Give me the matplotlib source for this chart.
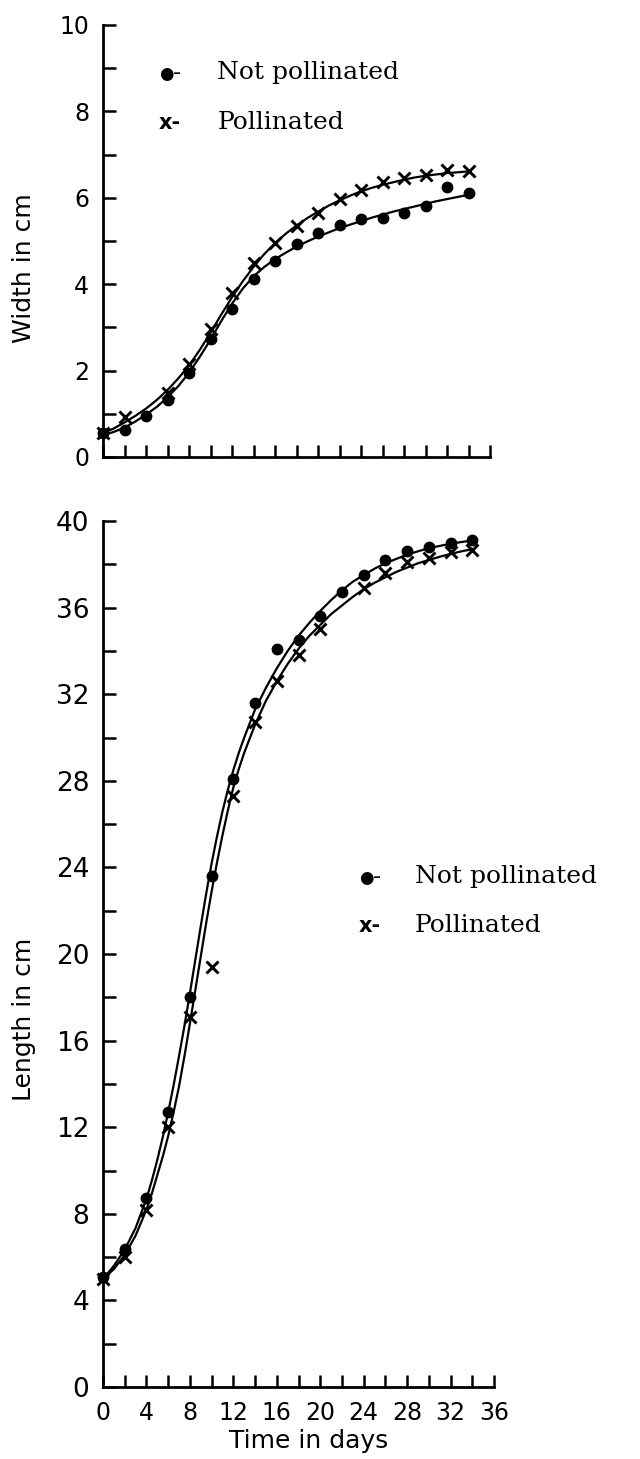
import matplotlib.pyplot as plt
from matplotlib.ticker import MultipleLocator

width_days_np = [0, 2, 4, 6, 8, 10, 12, 14, 16, 18, 20, 22, 24, 26, 28, 30, 32, 34]
width_np = [0.55, 0.62, 0.95, 1.33, 1.95, 2.72, 3.42, 4.11, 4.53, 4.92,
            5.19, 5.37, 5.50, 5.53, 5.65, 5.80, 6.24, 6.11]
width_days_p = [0, 2, 6, 8, 10, 12, 14, 16, 18, 20, 22, 24, 26, 28, 30, 32, 34]
width_p = [0.55, 0.92, 1.49, 2.15, 2.96, 3.80, 4.50, 4.96, 5.34, 5.65,
           5.96, 6.19, 6.36, 6.46, 6.52, 6.64, 6.62]

length_days_np = [0, 2, 4, 6, 8, 10, 12, 14, 16, 18, 20, 22, 24, 26, 28, 30, 32, 34]
length_np = [5.1, 6.4, 8.75, 12.7, 18.0, 23.6, 28.1, 31.6, 34.1, 34.5,
             35.6, 36.7, 37.5, 38.2, 38.6, 38.8, 39.0, 39.1]
length_days_p = [0, 2, 4, 6, 8, 10, 12, 14, 16, 18, 20, 24, 26, 28, 30, 32, 34]
length_p = [5.0, 6.0, 8.2, 12.0, 17.1, 19.4, 27.3, 30.7, 32.6, 33.8,
            35.0, 36.9, 37.6, 38.1, 38.3, 38.55, 38.65]

# fitted curves
width_curve_days = list(range(0, 35))
width_curve_np = [0.50, 0.58, 0.68, 0.82, 0.98, 1.16, 1.38, 1.64, 1.95, 2.32,
                  2.72, 3.15, 3.55, 3.90, 4.18, 4.40, 4.58, 4.73, 4.87, 4.99,
                  5.10, 5.20, 5.30, 5.38, 5.46, 5.54, 5.61, 5.68, 5.74, 5.80,
                  5.86, 5.92, 5.97, 6.02, 6.07]
width_curve_p = [0.55, 0.66, 0.80, 0.95, 1.12, 1.32, 1.55, 1.82, 2.12, 2.48,
                 2.88, 3.30, 3.70, 4.07, 4.40, 4.70, 4.95, 5.17, 5.36, 5.53,
                 5.68, 5.82, 5.94, 6.05, 6.15, 6.23, 6.30, 6.36, 6.42, 6.47,
                 6.51, 6.54, 6.57, 6.59, 6.61]

length_curve_days = [0, 1, 2, 3, 4, 4.5, 5, 5.5, 6, 6.5, 7, 7.5, 8, 8.5, 9, 9.5,
                     10, 10.5, 11, 11.5, 12, 12.5, 13, 14, 15, 16, 17, 18, 19, 20,
                     21, 22, 23, 24, 25, 26, 27, 28, 29, 30, 31, 32, 33, 34]
length_curve_np = [5.0, 5.6, 6.35, 7.35, 8.7, 9.55, 10.5, 11.55, 12.7, 13.95,
                   15.3, 16.7, 18.2, 19.75, 21.3, 22.8, 24.2, 25.45, 26.6, 27.6,
                   28.5, 29.3, 30.0, 31.3, 32.3, 33.2, 34.0, 34.7, 35.3, 35.85,
                   36.35, 36.8, 37.2, 37.5, 37.8, 38.05, 38.25, 38.45, 38.6, 38.75,
                   38.85, 38.95, 39.03, 39.1]
length_curve_p = [5.0, 5.45, 6.1, 7.0, 8.2, 8.95, 9.8, 10.65, 11.6, 12.7,
                  13.9, 15.3, 16.8, 18.35, 19.9, 21.45, 22.9, 24.25, 25.5, 26.65,
                  27.7, 28.55, 29.3, 30.6, 31.7, 32.6, 33.4, 34.1, 34.7, 35.2,
                  35.7, 36.1, 36.5, 36.85, 37.15, 37.4, 37.65, 37.85, 38.05, 38.2,
                  38.35, 38.48, 38.6, 38.7]

label_np = 'Not pollinated'
label_p = 'Pollinated'

fig = plt.figure(figsize=(6.4, 14.59), dpi=100)
ax1 = fig.add_axes([0.161, 0.6868, 0.605, 0.2961])
ax2 = fig.add_axes([0.161, 0.0493, 0.611, 0.5936])


def style_axis(ax, ysize):
    for side in ['top', 'right']:
        ax.spines[side].set_visible(False)
    for side in ['left', 'bottom']:
        ax.spines[side].set_linewidth(2.0)
    ax.tick_params(which='both', direction='in', length=9, width=1.8, pad=10)
    ax.tick_params(axis='x', labelsize=17, pad=10)
    ax.tick_params(axis='y', labelsize=ysize)
    ax.set_xlim(0, 36)


def draw(ax, cdays, cnp, cp, dnp, vnp, dp, vp):
    ax.plot(cdays, cnp, color='black', lw=1.6)
    ax.plot(cdays, cp, color='black', lw=1.6)
    ax.plot(dnp, vnp, 'o', color='black', ms=7.5, clip_on=False)
    ax.plot(dp, vp, 'x', color='black', ms=9, mew=2.1, clip_on=False)


def legend_text(ax, x, y1, y2, tx):
    # hand written legend, as in the original
    ax.text(x, y1, '\u25cf', transform=ax.transAxes, fontsize=12,
            ha='left', va='baseline')
    ax.text(x + 0.036, y1, '-', transform=ax.transAxes, fontsize=16,
            ha='left', va='baseline')
    ax.text(x, y2, 'x-', transform=ax.transAxes, fontsize=15,
            ha='left', va='baseline', fontweight='bold')
    ax.text(tx, y1, label_np, transform=ax.transAxes, fontsize=18,
            family='DejaVu Serif', va='baseline')
    ax.text(tx, y2, label_p, transform=ax.transAxes, fontsize=18,
            family='DejaVu Serif', va='baseline')


# --- Width ---
draw(ax1, width_curve_days, width_curve_np, width_curve_p,
     width_days_np, width_np, width_days_p, width_p)
style_axis(ax1, 17)
ax1.set_ylim(0, 10)
ax1.xaxis.set_major_locator(MultipleLocator(2))
ax1.set_xticklabels([])
ax1.yaxis.set_major_locator(MultipleLocator(2))
ax1.yaxis.set_minor_locator(MultipleLocator(1))
ax1.text(-0.205, 0.4375, 'Width in cm', transform=ax1.transAxes,
         rotation=90, ha='center', va='center', fontsize=18)
legend_text(ax1, 0.145, 0.875, 0.76, 0.295)

# --- Length ---
draw(ax2, length_curve_days, length_curve_np, length_curve_p,
     length_days_np, length_np, length_days_p, length_p)
style_axis(ax2, 19)
ax2.set_ylim(0, 40)
ax2.xaxis.set_major_locator(MultipleLocator(4))
ax2.xaxis.set_minor_locator(MultipleLocator(2))
ax2.yaxis.set_major_locator(MultipleLocator(4))
ax2.yaxis.set_minor_locator(MultipleLocator(2))
ax2.set_xlabel('Time in days', fontsize=18, labelpad=5)
ax2.xaxis.set_label_coords(0.525, -0.048)
ax2.text(-0.202, 0.424, 'Length in cm', transform=ax2.transAxes,
         rotation=90, ha='center', va='center', fontsize=18)
legend_text(ax2, 0.655, 0.582, 0.526, 0.797)

plt.savefig('out.png', dpi=100)
